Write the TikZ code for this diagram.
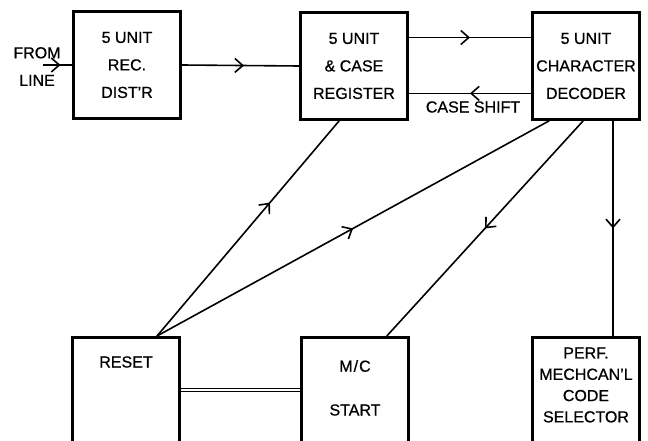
\documentclass[tikz,border=0pt]{standalone}
\usepackage{fontspec}
\setmainfont{Liberation Sans}[FakeBold=0.7]
\usetikzlibrary{arrows.meta,decorations.markings,calc}
\begin{document}
\begin{tikzpicture}[x=1pt, y=-1pt, every node/.style={font=\fontsize{16}{27.5}\selectfont}]
\tikzset{unit/.style={draw, line width=2.6pt, minimum width=107, minimum height=107, align=center, inner sep=0pt},
  tall/.style={draw, line width=2.6pt, minimum width=107, minimum height=150, anchor=north},
  wire/.style={line width=1.6pt},
  midarrow/.style={wire, postaction={decorate}, decoration={markings, mark=at position #1 with {\arrow{Straight Barb[length=8pt,width=14pt]}}}},
  midarrow/.default=0.5}
\clip (0,0) rectangle (648,441);
\fill[white] (0,0) rectangle (648,441);
% top row
\node[unit] (dist) at (127,65) {5 UNIT\\REC.\\DIST’R};
\node[unit] (reg) at (354,66) {5 UNIT\\\& CASE\\REGISTER};
\node[unit] (dec) at (586,66) {5 UNIT\\CHARACTER\\DECODER};
\node[align=center] (src) at (37,66.5) {FROM\\LINE};
\coordinate (feed) at (43,65);
% bottom row
\node[tall] (reset) at (126,336) {};
\node[tall] (mc) at (355,336) {};
\node[tall] (perf) at (586,336) {};
\node (resetlbl) at (126,362) {RESET};
\node (mclbl) at (355,366) {M\kern1pt/\kern1pt C};
\node (startlbl) at (355,410) {START};
\node[align=center, font=\fontsize{16}{21.3}\selectfont] (perflbl) at (586,385) {PERF.\\MECHCAN’L\\CODE\\SELECTOR};
% connectors
\draw[midarrow=0.6] (feed) -- (dist.west);
\draw[midarrow=0.53] (dist.east) -- (reg.west);
\draw[midarrow] ($(reg.north east)!.24!(reg.south east)$) -- ($(dec.north west)!.24!(dec.south west)$);
\draw[midarrow] ($(dec.north west)!.75!(dec.south west)$) -- ($(reg.north east)!.75!(reg.south east)$);
\node (shift) at (473,107) {CASE SHIFT};
\coordinate (hub) at ($(reset.north)+(31,0)$);
\draw[midarrow=0.62] (hub) -- ($(reg.south west)+(40,0)$);
\draw[midarrow] (hub) -- ($(dec.south west)+(18,0)$);
\draw[midarrow] ($(dec.south west)+(52,0)$) -- ($(mc.north east)+(-23,0)$);
\draw[midarrow] ($(dec.south)+(27,0)$) -- ($(perf.north)+(27,0)$);
\draw[double, double distance=2.5pt, line width=0.9pt] ($(reset.north east)+(0,54)$) -- ($(mc.north west)+(0,54)$);
\end{tikzpicture}
\end{document}
